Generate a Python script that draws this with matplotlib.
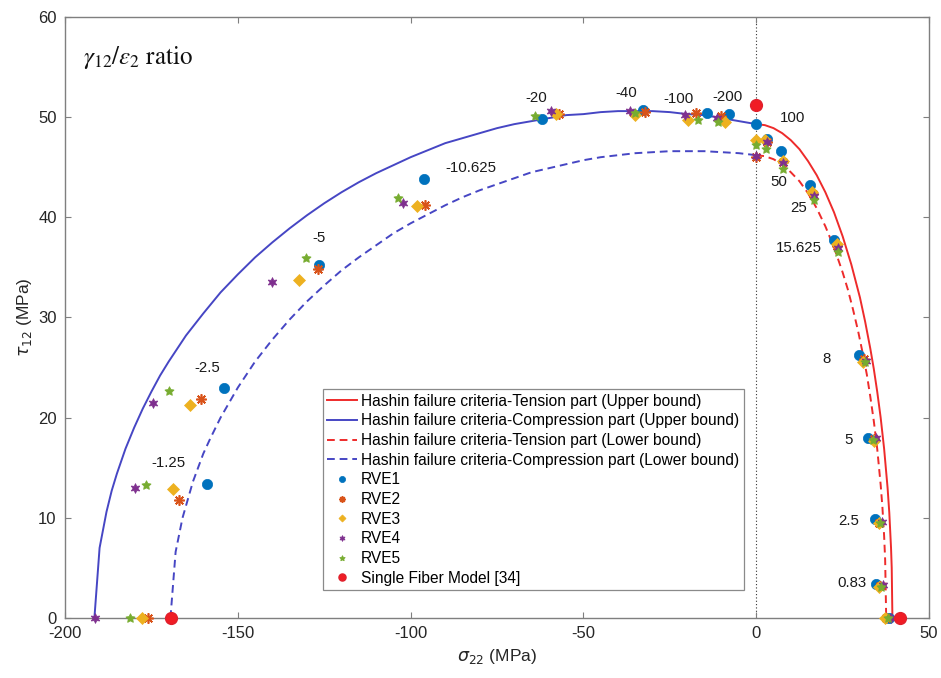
"""Failure envelope of the UD ply under combined sigma_22 / tau_12 loading.

Hashin bounds (upper/lower) with the RVE results for each gamma_12/eps_2
loading ratio and the single fibre model points.
"""
import matplotlib
matplotlib.use("Agg")
import matplotlib.pyplot as plt

plt.rcParams["font.family"] = ["Liberation Sans", "DejaVu Sans"]
plt.rcParams["axes.unicode_minus"] = False

# Hashin envelopes (sigma_22, tau_12) in MPa
TENS_UP_S = [0, 2.5, 5, 7.5, 10, 12.5, 15, 17.5, 20, 22.5, 25, 27.5, 30, 31.5, 33,
             34, 35, 36, 37, 38, 38.5, 39, 39.2, 39.4]
TENS_UP_T = [49.3, 49.2, 48.9, 48.4, 47.7, 46.8, 45.6, 44.2, 42.5, 40.5, 38.1, 35.3,
             32.0, 29.6, 26.9, 24.9, 22.6, 20.0, 16.9, 13.0, 10.5, 7.0, 5.0, 0]

COMP_UP_S = [-191.5, -190, -188, -186.5, -185, -182.5, -180, -177.5, -175, -172.5,
             -170, -165, -160, -155, -150, -145, -140, -135, -130, -125, -120, -115,
             -110, -105, -100, -95, -90, -85, -80, -75, -70, -65, -60, -55, -50, -45,
             -40, -35, -30, -25, -20, -15, -10, -5, 0]
COMP_UP_T = [0, 7.0, 10.6, 12.7, 14.4, 16.9, 19.0, 20.9, 22.6, 24.2,
             25.6, 28.2, 30.4, 32.5, 34.3, 36.0, 37.5, 38.9, 40.2, 41.4, 42.5, 43.5,
             44.4, 45.2, 46.0, 46.7, 47.4, 47.9, 48.4, 48.9, 49.3, 49.6, 49.9, 50.2, 50.3, 50.5,
             50.6, 50.6, 50.6, 50.5, 50.3, 50.2, 49.9, 49.6, 49.3]

TENS_LO_S = [0, 2.5, 5, 7.5, 10, 12.5, 15, 17.5, 20, 22.5, 25, 26.5, 28, 29.5, 31,
             32, 33, 34, 35, 36, 36.5, 37, 37.3, 37.6]
TENS_LO_T = [46.2, 46.1, 45.8, 45.3, 44.5, 43.6, 42.4, 40.9, 39.1, 37.0, 34.5, 32.8,
             30.8, 28.6, 26.1, 24.3, 22.1, 19.7, 16.9, 13.3, 11.1, 8.2, 5.8, 0]

COMP_LO_S = [-169.5, -168, -166, -163, -160, -158, -155, -150, -145, -140, -135, -130,
             -125, -120, -115, -110, -105, -100, -95, -90, -85, -80, -75, -70, -65,
             -60, -55, -50, -45, -40, -35, -30, -25, -20, -15, -10, -5, 0]
COMP_LO_T = [0, 6.6, 10.0, 13.6, 16.4, 17.9, 20.0, 23.0, 25.6, 27.8, 29.8, 31.6,
             33.2, 34.7, 36.0, 37.2, 38.4, 39.4, 40.3, 41.2, 42.0, 42.7, 43.3, 43.9, 44.5,
             44.9, 45.3, 45.7, 46.0, 46.2, 46.4, 46.5, 46.6, 46.6, 46.6, 46.5, 46.4, 46.2]

# RVE failure points, one entry per loading ratio
RVE1_S = [-169.4, -158.9, -153.9, -126.4, -96.1, -62.0, -32.9, -14.3, -8.0, 0.0,
          3.1, 7.2, 15.5, 22.6, 29.8, 32.2, 34.4, 34.6, 38.4]
RVE1_T = [0, 13.4, 23.0, 35.2, 43.8, 49.8, 50.7, 50.4, 50.3, 49.3,
          47.8, 46.6, 43.2, 37.7, 26.3, 18.0, 9.9, 3.4, 0]
RVE2_S = [-176.1, -167.0, -160.6, -126.9, -95.8, -57.0, -32.2, -17.4, -10.2, 0.0,
          3.0, 7.7, 16.4, 23.4, 31.2, 34.1, 35.6, 35.8, 37.6]
RVE2_T = [0, 11.8, 21.9, 34.8, 41.2, 50.3, 50.5, 50.4, 50.1, 46.0,
          47.5, 45.5, 42.3, 37.1, 25.9, 17.9, 9.5, 3.2, 0]
RVE3_S = [-177.6, -168.9, -163.8, -132.4, -98.2, -57.9, -35.0, -19.8, -9.1, 0.0,
          2.6, 7.7, 16.1, 23.3, 30.8, 34.1, 35.6, 35.6, 37.3]
RVE3_T = [0, 12.9, 21.3, 33.7, 41.1, 50.3, 50.2, 49.7, 49.5, 47.7,
          47.7, 45.6, 42.5, 37.3, 25.6, 17.7, 9.5, 3.1, 0]
RVE4_S = [-191.3, -179.7, -174.6, -140.2, -102.1, -59.4, -36.5, -20.6, -11.4, 0.0,
          3.0, 7.6, 16.8, 23.6, 31.7, 34.6, 36.4, 36.7, 38.9]
RVE4_T = [0, 13.0, 21.5, 33.5, 41.4, 50.6, 50.6, 50.2, 49.9, 46.1,
          47.5, 45.4, 42.1, 36.9, 25.7, 18.0, 9.6, 3.3, 0]
RVE5_S = [-181.1, -176.6, -169.8, -130.3, -103.8, -63.9, -35.0, -16.8, -11.1, 0.0,
          2.8, 7.6, 16.8, 23.6, 31.4, 33.8, 35.9, 36.1, 38.0]
RVE5_T = [0, 13.3, 22.7, 35.9, 41.9, 50.1, 50.4, 49.7, 49.5, 47.2,
          46.8, 44.8, 41.7, 36.5, 25.6, 17.8, 9.5, 3.1, 0]

SFM_S = [-169.4, 0.0, 41.6]
SFM_T = [0, 51.2, 0]

RATIO_LABELS = ["-1.25", "-2.5", "-5", "-10.625", "-20", "-40", "-100", "-200",
                "100", "50", "25", "15.625", "8", "5", "2.5", "0.83"]
RATIO_LABEL_XY = [(-170.0, 15.5), (-158.8, 25.0), (-126.5, 37.9), (-82.6, 44.9),
                  (-63.7, 51.9), (-37.6, 52.4), (-22.4, 51.8), (-8.2, 52.0),
                  (10.4, 49.9), (6.4, 43.5), (12.4, 40.9), (12.2, 36.9),
                  (20.3, 25.9), (26.6, 17.8), (26.8, 9.7), (27.6, 3.5)]

RED = "#EE2B2B"
BLUE = "#4646C4"
RVE_STYLE = [
    ("RVE1", "#0072BD", "o", 7.4),
    ("RVE2", "#D95319", (8, 2, 0), 7.5),
    ("RVE3", "#EDB120", "D", 6.0),
    ("RVE4", "#7E2F8E", (6, 1, 0), 7.2),
    ("RVE5", "#77AC30", (5, 1, 0), 7.0),
]


def main():
    fig = plt.figure(figsize=(9.41, 6.78), dpi=100)
    ax = fig.add_axes([0.0691, 0.0885, 0.9182, 0.8865])

    lw = 1.4
    ax.plot(TENS_UP_S, TENS_UP_T, color=RED, lw=lw,
            label="Hashin failure criteria-Tension part (Upper bound)")
    ax.plot(COMP_UP_S, COMP_UP_T, color=BLUE, lw=lw,
            label="Hashin failure criteria-Compression part (Upper bound)")
    ax.plot(TENS_LO_S, TENS_LO_T, color=RED, lw=lw, ls=(0, (4, 2.5)),
            label="Hashin failure criteria-Tension part (Lower bound)")
    ax.plot(COMP_LO_S, COMP_LO_T, color=BLUE, lw=lw, ls=(0, (4, 2.5)),
            label="Hashin failure criteria-Compression part (Lower bound)")

    ax.axvline(0, color="#333333", lw=0.8, ls=(0, (1, 2)), zorder=1)

    series = [(RVE1_S, RVE1_T), (RVE2_S, RVE2_T), (RVE3_S, RVE3_T),
              (RVE4_S, RVE4_T), (RVE5_S, RVE5_T)]
    for (s, t), (name, col, mk, ms) in zip(series, RVE_STYLE):
        mew = 1.2 if mk == (8, 2, 0) else 0.5
        ax.plot(s, t, ls="none", marker=mk, ms=ms, mfc=col, mec=col, mew=mew,
                clip_on=False, label=name, zorder=3)

    ax.plot(SFM_S, SFM_T, ls="none", marker="o", ms=8.5, mfc="#F01C24", mec="#E0202C",
            clip_on=False, label="Single Fiber Model [34]", zorder=4)

    for txt, (x, y) in zip(RATIO_LABELS, RATIO_LABEL_XY):
        ax.text(x, y, txt, fontsize=10.8, ha="center", va="center", color="#1a1a1a")

    ax.text(0.021, 0.932, r"$\gamma_{12}/\varepsilon_2$ ratio", transform=ax.transAxes,
            fontsize=18, family="STIXGeneral", math_fontfamily="stix",
            ha="left", va="center", color="#111111")

    ax.set_xlim(-200, 50)
    ax.set_ylim(0, 60)
    ax.set_xticks(range(-200, 51, 50))
    ax.set_yticks(range(0, 61, 10))
    ax.tick_params(direction="in", top=True, right=True, length=4, width=0.8,
                   labelsize=12, colors="#7f7f7f", labelcolor="#262626", pad=6)
    for sp in ax.spines.values():
        sp.set_color("#7f7f7f")
        sp.set_linewidth(1.0)

    ax.set_xlabel(r"$\sigma_{22}$ (MPa)", fontsize=12.5, color="#262626", labelpad=4)
    ax.set_ylabel(r"$\tau_{12}$ (MPa)", fontsize=12.5, color="#262626", labelpad=3)

    leg = ax.legend(loc="upper left", bbox_to_anchor=(0.2983, 0.381), borderaxespad=0,
                    fontsize=11.2, labelspacing=0.3, handlelength=1.9, handletextpad=0.25,
                    borderpad=0.3, markerscale=0.6, fancybox=False, framealpha=1,
                    edgecolor="#8a8a8a")
    leg.get_frame().set_linewidth(0.9)

    fig.savefig("out.png", dpi=100)
    plt.close(fig)


if __name__ == "__main__":
    main()
